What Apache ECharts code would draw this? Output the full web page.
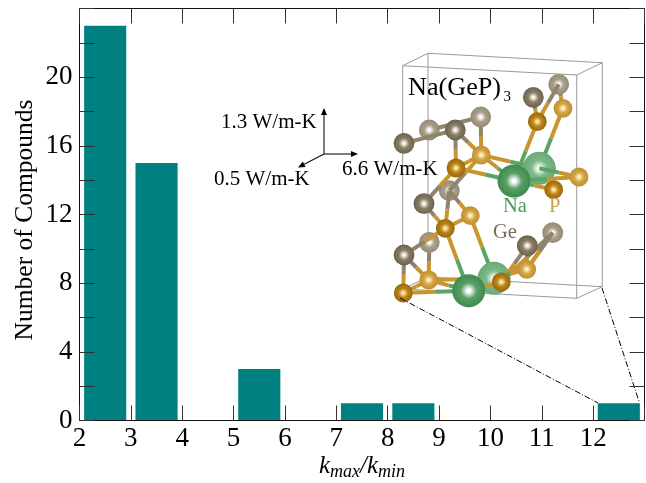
<!DOCTYPE html>
<html><head><meta charset="utf-8">
<style>html,body{margin:0;padding:0;background:#fff}#c{width:646px;height:483px}</style>
<script src="https://cdn.jsdelivr.net/npm/echarts@6/dist/echarts.min.js"></script>
</head><body><div id="c"></div>
<script>
// ---- histogram data ----
const binStarts = [2, 3, 5, 7, 8, 12];
const binCounts = [23, 15, 3, 1, 1, 1];
const yLabel = 'Number of Compounds';

// ---- inset crystal structure, in picture units ----
const boxFrontCorners = [[402.7,65.7],[576.7,75],[576.7,298.3],[402.7,289]];
const boxBackCorners = [[428,53.3],[602.3,62.7],[602.3,286.7],[428,277]];
const geAtoms = [[404,143.3],[429.3,130],[455.3,130],[480.7,117],[533.3,97.3],[558.7,84.3],[424,203.7],[449.3,190.7],[404,255],[429.3,242.3],[527.3,245.7],[552.7,232.7]];
const pAtoms = [[456,168],[481.3,155],[537.3,121.7],[563,108.3],[553.7,189.7],[579,177],[445.3,228.3],[470.3,215.7],[403.3,293],[428.7,280],[501.3,282],[526.7,269.3]];
const naAtoms = [[514,181],[539.3,168.3],[468.7,290.7],[494,278.3]];
const rearBonds = ['G1-G3','G3-P1','G5-P3','G11-P11','G9-P9','P1-N1','P3-N1','P7-N3','P9-N3'];
const midBonds = ['G0-G2','G2-P0','G2-P1','P0-P1','P0-G6','P1-G7','P0-N0','P1-N0','P2-G4','P2-G5','P2-N0','P4-N0','P5-N0','P5-N1','G6-P6','G7-P6','G7-P7','P6-P7','P6-N2','P6-G8','G8-P8','G8-P9','P8-P9','P8-N2','P9-N2','P10-N2','P10-N3','P10-G10','P10-G11','P11-G10','P11-G11','P11-N3'];
const boxGuides = [[400,298,598,403],[602,288,639.5,403]];
const arrows = [[324,154,324,108],[324,154,358,154],[324,154,298,167.5]];

const SERIF = '"Liberation Serif","Times New Roman",serif';
const atomStyle = {
  G: {r: 10.4, front: ['#fbf8ec','#8a7e68','#6c614c'], back: ['#ffffff','#aaa08b','#948a74']},
  P: {r: 9.4, front: ['#ffe9a8','#bd8518','#96680c'], back: ['#fff2c4','#d5a647','#bc8f34']},
  N: {r: 16.5, front: ['#ffffff','#5a9f66','#3f8a4e'], back: ['#f4fff4','#7fb88a','#6aa876']}
};
const bondColor = {G: '#8f846e', P: '#c9952f', N: '#5aa566'};
const atomLists = {G: geAtoms, P: pAtoms, N: naAtoms};
const isBack = (k, i) => i % 2 === 1;
const parse = s => [s[0], +s.slice(1)];

function bondRows(list) {
  return list.map(b => {
    const [a, c] = b.split('-').map(parse);
    const p = atomLists[a[0]][a[1]], q = atomLists[c[0]][c[1]];
    return ['bond', p[0], p[1], q[0], q[1], a[0], c[0]];
  });
}
function atomRows(kind, back) {
  return atomLists[kind].map((p, i) => [isBack(kind, i) === back ? 'atom' : 'skip', p[0], p[1], 0, 0, kind, back ? 'back' : 'front']);
}
const scene = [].concat(
  bondRows(rearBonds),
  atomRows('N', true),
  atomRows('G', true),
  bondRows(midBonds),
  atomRows('P', true),
  atomRows('G', false),
  atomRows('P', false),
  atomRows('N', false)
).filter(r => r[0] !== 'skip');

const boxEdges = [];
[boxFrontCorners, boxBackCorners].forEach(c => c.forEach((p, i) => {
  const q = c[(i + 1) % 4]; boxEdges.push([p[0], p[1], q[0], q[1]]);
}));
boxFrontCorners.forEach((p, i) => { const q = boxBackCorners[i]; boxEdges.push([p[0], p[1], q[0], q[1]]); });

function lineItem(api, v, style) {
  const a = api.coord([v[0], v[1]]), b = api.coord([v[2], v[3]]);
  return {type: 'line', shape: {x1: a[0], y1: a[1], x2: b[0], y2: b[1]}, style};
}
function overlay(name, data, z, renderItem) {
  return {name, type: 'custom', xAxisIndex: 2, yAxisIndex: 2, data, z, silent: true, clip: false,
    encode: {x: 1, y: 2}, tooltip: {show: false}, renderItem};
}

const option = {
  animation: false,
  backgroundColor: '#fff',
  textStyle: {fontFamily: SERIF},
  grid: [
    {left: 79.5, right: 1.5, top: 8.5, bottom: 62.5, show: false, outerBoundsMode: 'none'},
    {left: 79.5, right: 1.5, top: 8.5, bottom: 62.5, show: false, outerBoundsMode: 'none'},
    {left: 0, top: 0, width: 646, height: 483, show: false, outerBoundsMode: 'none'}
  ],
  xAxis: [
    {gridIndex: 0, type: 'value', min: 2, max: 13, interval: 1, z: 10,
     axisLine: {show: true, onZero: false, lineStyle: {color: '#111', width: 1}},
     axisTick: {inside: true, length: 15, lineStyle: {color: '#333', width: 1}},
     axisLabel: {color: '#000', fontFamily: SERIF, fontSize: 27, margin: 5,
       formatter: v => v === 13 ? '' : String(v)},
     splitLine: {show: false},
     name: '{i|k}{s|max}{i|/k}{s|min}', nameLocation: 'middle', nameGap: 31, nameMoveOverlap: false,
     nameTextStyle: {rich: {
       i: {fontFamily: SERIF, fontStyle: 'italic', fontSize: 25, color: '#000', lineHeight: 30, verticalAlign: 'middle'},
       s: {fontFamily: SERIF, fontStyle: 'italic', fontSize: 18, color: '#000', lineHeight: 18, verticalAlign: 'bottom', padding: [12, 0, 0, 0]}
     }}},
    {gridIndex: 1, type: 'value', position: 'top', min: 2, max: 13, interval: 1, z: 10,
     axisLine: {show: true, onZero: false, lineStyle: {color: '#111', width: 1}},
     axisTick: {inside: true, length: 15, lineStyle: {color: '#333', width: 1}},
     axisLabel: {show: false}, splitLine: {show: false}},
    {gridIndex: 2, type: 'value', min: 0, max: 646, show: false}
  ],
  yAxis: [
    {gridIndex: 0, type: 'value', min: 0, max: 24, interval: 2, z: 10,
     axisLine: {show: true, onZero: false, lineStyle: {color: '#111', width: 1}},
     axisTick: {show: true, inside: true, length: 15, lineStyle: {color: '#333', width: 1}},
     axisLabel: {color: '#000', fontFamily: SERIF, fontSize: 27, margin: 7,
       formatter: v => (v % 4 === 0 && v < 24) ? String(v) : ''},
     splitLine: {show: false},
     name: yLabel, nameLocation: 'middle', nameGap: 41, nameRotate: 90, nameMoveOverlap: false,
     nameTextStyle: {color: '#000', fontFamily: SERIF, fontSize: 25.5, padding: [0, 11, 0, 0]}},
    {gridIndex: 1, type: 'value', position: 'right', min: 0, max: 24, interval: 2, z: 10,
     axisLine: {show: true, onZero: false, lineStyle: {color: '#111', width: 1}},
     axisTick: {show: true, inside: true, length: 15, lineStyle: {color: '#333', width: 1}},
     axisLabel: {show: false}, splitLine: {show: false}},
    {gridIndex: 2, type: 'value', min: 0, max: 483, inverse: true, show: false}
  ],
  series: [
    {name: 'Compounds', type: 'custom', xAxisIndex: 0, yAxisIndex: 0, z: 2, clip: false,
     data: binStarts.map((s, i) => [s, binCounts[i]]),
     encode: {x: 0, y: 1},
     renderItem(params, api) {
       const a = api.coord([api.value(0) + 0.09, api.value(1)]);
       const b = api.coord([api.value(0) + 0.91, 0]);
       return {type: 'rect', shape: {x: a[0], y: a[1], width: b[0] - a[0], height: b[1] - a[1]},
         style: {fill: '#008080'}};
     }},
    overlay('box', boxEdges, 3, (params, api) =>
      lineItem(api, [api.value(0), api.value(1), api.value(2), api.value(3)],
        {stroke: '#9a9a9a', lineWidth: 1, fill: null})),
    overlay('structure', scene, 4, (params, api) => {
      const r = scene[params.dataIndex];
      if (r[0] === 'bond') {
        const mx = (r[1] + r[3]) / 2, my = (r[2] + r[4]) / 2;
        return {type: 'group', children: [
          lineItem(api, [r[1], r[2], mx, my], {stroke: bondColor[r[5]], lineWidth: 4, fill: null}),
          lineItem(api, [mx, my, r[3], r[4]], {stroke: bondColor[r[6]], lineWidth: 4, fill: null})
        ]};
      }
      const c = api.coord([r[1], r[2]]);
      const st = atomStyle[r[5]], col = st[r[6]];
      return {type: 'circle', shape: {cx: c[0], cy: c[1], r: st.r},
        style: {fill: new echarts.graphic.RadialGradient(0.5, 0.5, 0.5, [
          {offset: 0, color: col[0]}, {offset: 0.1, color: col[0]},
          {offset: 0.48, color: col[1]}, {offset: 1, color: col[2]}
        ])}};
    }),
    overlay('guides', boxGuides, 5, (params, api) =>
      lineItem(api, [api.value(0), api.value(1), api.value(2), api.value(3)],
        {stroke: '#000', lineWidth: 1, lineDash: [6, 2, 1, 2], fill: null})),
    overlay('arrows', arrows, 5, (params, api) => {
      const v = arrows[params.dataIndex];
      const a = api.coord([v[0], v[1]]), b = api.coord([v[2], v[3]]);
      const L = Math.hypot(b[0] - a[0], b[1] - a[1]), ux = (b[0] - a[0]) / L, uy = (b[1] - a[1]) / L;
      const bx = b[0] - ux * 7, by = b[1] - uy * 7;
      return {type: 'group', children: [
        {type: 'line', shape: {x1: a[0], y1: a[1], x2: bx, y2: by}, style: {stroke: '#111', lineWidth: 1.1, fill: null}},
        {type: 'polygon', shape: {points: [[b[0], b[1]], [bx - uy * 3, by + ux * 3], [bx + uy * 3, by - ux * 3]]}, style: {fill: '#000'}}
      ]};
    })
  ],
  graphic: {elements: [
    ['Na(GeP)', 408, 88, 26.2, '#000'],
    ['3', 503.5, 97, 15, '#000'],
    ['1.3 W/m-K', 221, 122, 21, '#000'],
    ['0.5 W/m-K', 214, 179, 21, '#000'],
    ['6.6 W/m-K', 342, 169, 21, '#000'],
    ['Na', 503, 207, 20.5, '#4c9a5a'],
    ['P', 549, 207, 20.5, '#c9a052'],
    ['Ge', 493, 233, 20.5, '#7a6e5a']
  ].map(t => ({type: 'text', x: t[1], y: t[2], z: 20, silent: true,
    style: {text: t[0], fontFamily: SERIF, fontSize: t[3], fill: t[4], verticalAlign: 'middle'}}))}
};
echarts.init(document.getElementById('c'), null, {renderer: 'canvas'}).setOption(option);
</script></body></html>
